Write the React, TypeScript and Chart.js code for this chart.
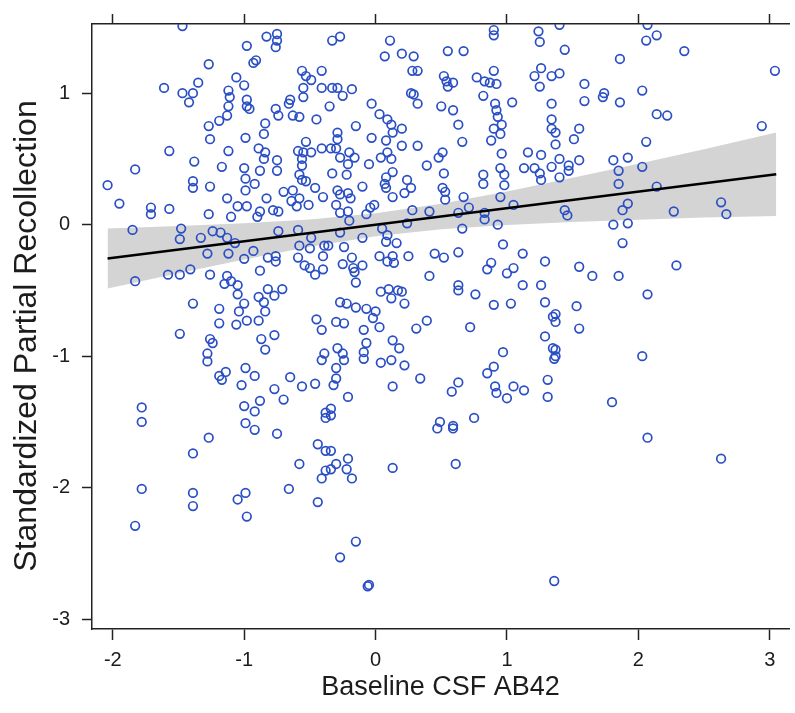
import React, { useEffect, useRef } from "react";
import { Chart, registerables } from "chart.js";

Chart.register(...registerables);

// Scatter values (Baseline CSF AB42, Standardized Partial Recollection), grouped by plot region
const topLeftX = [-1.47,-0.83,-0.75,-0.75,-0.76,-0.98,-1.27,-0.93,-0.91,-1.61,
-1.47,-1.39,-1.42,-1.35,-1.06,-1.00,-1.12,-1.11,-1.12,-0.98,
-0.98,-0.96,-1.13,-1.19,-1.27,-1.26,-0.99,-1.12,-1.57,-1.38,
-1.17,-1.83,-2.04,-1.95,-1.71,-1.71,-1.57,-1.39,-1.39,-1.26,
-1.27,-1.00,-0.99,-0.99,-0.92,-0.88,-0.85,-0.84,-0.89,-0.84,
-0.85,-0.75,-0.75,-0.76,-0.66,-0.65,-0.74,-0.63,-0.58,-0.55,
-0.55,-0.56,-0.53,-0.49,-0.41,-0.41,-0.45,-0.53,-0.59,-0.55,
-0.49,-0.41,-0.56,-0.56,-0.58,-0.56,-0.53,-0.46,-0.63,-0.70,
-0.83,-0.64,-0.58,-0.51,-0.40,-0.98,-1.05,-1.13,-0.78,-0.74,
-0.88,-0.60,-1.10,-0.90];
const topLeftY = [1.51,1.43,1.45,1.40,1.35,1.36,1.22,1.23,1.25,1.04,
1.00,1.00,0.93,1.08,1.12,1.06,1.02,0.97,0.90,0.95,
0.90,0.88,0.83,0.79,0.75,0.65,0.66,0.56,0.56,0.48,
0.44,0.42,0.30,0.16,0.13,0.08,0.12,0.33,0.28,0.29,
0.08,0.43,0.35,0.26,0.31,0.41,0.69,0.77,0.58,0.55,
0.50,0.49,0.41,0.88,0.92,0.95,0.83,0.83,0.82,1.04,
0.97,1.17,1.13,1.10,1.17,1.04,0.80,0.63,0.56,0.55,
0.55,0.58,0.50,0.45,0.38,0.34,0.33,0.28,0.26,0.25,
0.20,0.18,0.20,0.15,0.21,0.14,0.14,0.20,0.11,0.10,
0.10,0.14,0.06,0.06];

const topMidX = [-0.33,-0.27,0.11,0.07,0.20,0.29,0.28,0.32,0.55,0.67,
0.90,0.90,1.24,1.25,1.26,1.21,1.25,1.34,1.34,1.34,
1.34,0.52,0.54,0.59,0.55,0.77,0.83,0.87,0.90,0.92,
0.82,1.04,0.91,0.92,0.93,0.96,0.90,0.95,0.88,0.96,
0.95,0.98,0.98,0.82,0.82,0.95,1.05,1.16,1.26,1.13,
1.21,1.25,1.26,1.34,0.27,0.29,0.32,0.50,0.59,0.63,
0.66,0.51,0.48,0.39,0.52,0.51,0.53,0.53,0.67,0.71,
0.63,0.83,-0.03,0.03,0.09,0.12,0.13,0.20,0.08,0.20,
0.32,0.09,0.04,0.12,-0.05,0.13,0.08,0.07,0.08,0.13,
0.24,0.22,0.27,-0.01,-0.04,0.28,0.41,-0.07,-0.15,-0.03,
-0.29,-0.29,-0.30,-0.34,-0.27,-0.20,-0.16,-0.21,-0.33,-0.22,
-0.10,-0.29,-0.27,-0.19,-0.21,-0.30,-0.27,-0.21,-0.33,-0.29,
-0.25,-0.18,-0.35];
const topMidY = [1.40,1.43,1.40,1.28,1.30,1.28,1.17,1.17,1.32,1.32,
1.48,1.44,1.47,1.39,1.19,1.13,1.05,1.13,0.92,0.80,
0.73,1.13,1.09,1.08,1.05,1.12,1.09,1.08,1.17,1.07,
0.98,0.93,0.92,0.87,0.82,0.76,0.73,0.69,0.64,0.54,
0.43,0.38,0.30,0.38,0.31,0.21,0.15,0.55,0.53,0.43,
0.43,0.39,0.34,0.44,1.00,0.99,0.92,0.90,0.87,0.76,
0.63,0.55,0.51,0.45,0.39,0.28,0.25,0.19,0.21,0.13,
0.09,0.09,0.92,0.84,0.80,0.76,0.70,0.73,0.64,0.60,
0.60,0.55,0.51,0.50,0.46,0.40,0.36,0.31,0.28,0.21,
0.34,0.24,0.28,0.15,0.13,0.11,0.10,0.08,0.75,0.66,
0.70,0.65,0.58,0.58,0.51,0.55,0.51,0.46,0.39,0.38,
0.29,0.26,0.23,0.20,0.24,0.15,0.09,0.10,1.04,1.04,
0.98,1.03,0.90];

const topRightX = [1.40,1.44,1.40,1.59,1.59,1.74,1.73,1.86,1.86,2.03,
2.06,2.14,2.07,2.35,3.04,2.14,2.22,2.94,2.06,1.55,
1.51,1.37,1.37,1.40,1.55,1.47,1.47,1.40,1.81,1.92,
1.85,2.03,1.85,2.14,1.92,1.88,2.27,2.63,2.67,1.44,
1.46];
const topRightY = [1.52,1.33,1.15,1.07,0.94,1.00,0.97,1.26,0.93,1.02,
1.40,1.44,1.52,1.32,1.17,0.84,0.83,0.75,0.63,0.73,
0.65,0.70,0.61,0.50,0.49,0.45,0.41,0.36,0.49,0.51,
0.41,0.44,0.31,0.29,0.16,0.11,0.10,0.17,0.08,0.11,
0.07];

const midLeftX = [-1.85,-1.48,-1.49,-1.33,-1.24,-1.18,-1.13,-1.07,-1.28,-1.12,
-1.00,-0.93,-0.88,-0.82,-0.76,-0.76,-0.74,-0.59,-0.58,-0.50,
-0.49,-0.59,-0.54,-0.50,-0.46,-0.40,-0.40,-0.39,-1.83,-1.58,
-1.49,-1.41,-1.26,-1.13,-1.15,-1.10,-1.05,-1.05,-0.89,-0.82,
-0.77,-0.71,-0.85,-1.00,-1.04,-0.84,-1.39,-1.19,-1.19,-0.98,
-1.06,-0.89,-1.49,-1.26,-1.24,-1.28,-1.28,-0.87,-0.77,-0.84,
-1.19,-1.14,-1.17,-0.99,-0.92,-1.02,-0.65,-0.77,-0.70,-0.56,
-0.46,-0.45,-0.41,-0.39,-0.41,-0.38,-0.38,-1.78,-1.78,-1.00,
-0.92,-0.88,-0.99];
const midLeftY = [-0.04,-0.03,-0.11,-0.10,-0.05,-0.06,-0.10,-0.14,-0.22,-0.22,
-0.26,-0.20,-0.35,-0.25,-0.24,-0.28,-0.05,-0.04,-0.16,-0.18,
-0.10,-0.25,-0.31,-0.33,-0.38,-0.34,-0.24,-0.16,-0.43,-0.38,
-0.38,-0.34,-0.38,-0.39,-0.45,-0.43,-0.46,-0.53,-0.55,-0.49,
-0.54,-0.49,-0.59,-0.60,-0.66,-0.66,-0.60,-0.64,-0.75,-0.73,
-0.76,-0.73,-0.83,-0.87,-0.90,-0.98,-1.04,-0.87,-0.84,-0.95,
-1.15,-1.12,-1.18,-1.09,-1.15,-1.22,-1.16,-1.25,-1.33,-1.23,
-1.21,-0.72,-0.80,-0.98,-1.03,-1.43,-1.47,-1.39,-1.50,-1.38,
-1.42,-1.34,-1.51];

const midMidX = [-0.20,0.24,0.66,0.83,0.93,0.97,-0.27,-0.10,0.05,0.09,
0.08,0.16,-0.36,-0.24,-0.18,-0.25,-0.17,-0.10,-0.16,-0.15,
0.03,0.09,0.13,0.14,0.25,0.45,0.52,0.63,0.41,0.63,
0.63,0.76,0.85,0.88,1.00,1.05,1.12,1.29,1.12,1.26,
0.90,1.03,1.29,1.35,0.72,1.29,1.35,1.36,0.97,0.04,
0.10,0.17,0.20,0.12,0.22,-0.27,-0.22,-0.15,-0.07,0.00,
-0.02,0.03,-0.30,-0.24,-0.09,0.31,0.39,-0.07,0.13,0.18,
-0.29,-0.25,-0.24,-0.09,-0.09,0.04,0.12,0.22,-0.30,-0.30,
-0.32,-0.21,0.13,0.34,0.58,0.63,0.85,0.90,0.91,0.92,
1.00,1.05,1.13,1.31,1.31,-0.34,-0.34,0.75,0.49,0.59];
const midMidY = [0.03,0.01,-0.03,0.04,0.00,-0.15,-0.06,-0.10,-0.03,-0.08,
-0.13,-0.14,-0.16,-0.17,-0.25,-0.30,-0.33,-0.31,-0.36,-0.44,
-0.24,-0.28,-0.24,-0.29,-0.24,-0.22,-0.25,-0.21,-0.39,-0.46,
-0.50,-0.53,-0.34,-0.29,-0.37,-0.33,-0.22,-0.28,-0.46,-0.46,
-0.61,-0.60,-0.59,-0.70,-0.78,-0.85,-0.94,-1.02,-0.97,-0.51,
-0.49,-0.50,-0.51,-0.56,-0.60,-0.59,-0.60,-0.63,-0.64,-0.66,
-0.71,-0.78,-0.74,-0.75,-0.80,-0.79,-0.73,-0.90,-0.88,-0.94,
-0.94,-0.98,-1.03,-0.97,-1.02,-1.05,-1.03,-1.07,-1.09,-1.17,
-1.22,-1.31,-1.23,-1.17,-1.27,-1.20,-1.13,-1.08,-1.23,-1.28,
-1.32,-1.23,-1.26,-1.18,-1.31,-1.40,-1.45,-1.47,-1.50,-1.53];

const midRightX = [1.81,1.92,1.88,1.55,1.65,1.85,2.29,2.07,1.53,1.37,
1.37,1.55,1.37,1.37,2.03,1.80];
const midRightY = [0.00,0.01,-0.14,-0.32,-0.39,-0.39,-0.31,-0.53,-0.62,-0.68,
-0.74,-0.79,-0.95,-1.00,-1.00,-1.35];

const lowX = [-1.27,-1.39,-0.92,-0.75,-0.44,-0.58,-0.38,-0.41,-0.38,-1.78,
-1.39,-1.39,-1.83,-0.99,-1.05,-0.98,-0.66,-0.44,
0.47,0.59,-0.34,-0.30,-0.21,-0.34,-0.22,-0.18,0.13,0.61,
-0.15,-0.27,-0.06,-0.05,1.36,2.07,2.63];
const lowY = [-1.62,-1.74,-1.56,-1.59,-1.67,-1.82,-1.72,-1.93,-1.87,-2.01,
-2.04,-2.14,-2.29,-2.04,-2.09,-2.22,-2.01,-2.11,
-1.55,-1.55,-1.72,-1.82,-1.78,-1.86,-1.86,-1.93,-1.85,-1.82,
-2.41,-2.53,-2.75,-2.74,-2.71,-1.62,-1.78];

// Fitted regression line and its confidence band
const fitX = [-2.04, 3.05];
const fitY = [-0.258, 0.383];
const bandX = [-2.04, -1.5, -1, -0.5, 0, 0.5, 1, 1.5, 2, 2.5, 3.05];
const bandUpper = [-0.03, -0.01, 0.011, 0.04, 0.087, 0.159, 0.253, 0.356, 0.464, 0.574, 0.701];
const bandLower = [-0.486, -0.37, -0.265, -0.168, -0.089, -0.035, -0.003, 0.02, 0.038, 0.054, 0.065];

const xTicks = [-2, -1, 0, 1, 2, 3];
const yTicks = [-3, -2, -1, 0, 1];

const X_TITLE = "Baseline CSF AB42";
const Y_TITLE = "Standardized Partial Recollection";

const X_MIN = -2.1585;
const X_MAX = 3.147;
const Y_MIN = -3.075;
const Y_MAX = 1.526;

const FAMILY = "'Liberation Sans', Arial, sans-serif";
const INK = "#1c1c1c";

const yTitlePlugin = {
  id: "yTitle",
  afterDraw(chart: any) {
    const ctx = chart.ctx;
    ctx.save();
    ctx.translate(27, 336);
    ctx.rotate(-Math.PI / 2);
    ctx.font = `32px ${FAMILY}`;
    ctx.fillStyle = INK;
    ctx.textAlign = "center";
    ctx.textBaseline = "middle";
    ctx.fillText(Y_TITLE, 0, 0);
    ctx.restore();
  },
};

export default function App() {
  const ref = useRef<HTMLCanvasElement>(null);

  useEffect(() => {
    const canvas = ref.current;
    if (!canvas) return;
    const xs = [...topLeftX, ...topMidX, ...topRightX, ...midLeftX, ...midMidX, ...midRightX, ...lowX];
    const ys = [...topLeftY, ...topMidY, ...topRightY, ...midLeftY, ...midMidY, ...midRightY, ...lowY];
    const points = xs.map((x, i) => ({ x, y: ys[i] }));
    const fit = fitX.map((x, i) => ({ x, y: fitY[i] }));
    const upper = bandX.map((x, i) => ({ x, y: bandUpper[i] }));
    const lower = bandX.map((x, i) => ({ x, y: bandLower[i] }));

    const tickGrid = {
      display: true,
      drawOnChartArea: false,
      drawTicks: true,
      tickLength: 10,
      tickWidth: 1.5,
      tickColor: "#222",
    };
    const border = { display: true, color: "#222", width: 1.5 };

    const chart = new Chart(canvas, {
      type: "scatter",
      data: {
        datasets: [
          {
            type: "line",
            data: fit,
            borderColor: "#000",
            borderWidth: 2.6,
            pointRadius: 0,
            fill: false,
            order: 0,
          } as any,
          {
            type: "scatter",
            data: points,
            pointStyle: "circle",
            pointRadius: 4.3,
            borderWidth: 1.7,
            borderColor: "#2a4fc4",
            backgroundColor: "rgba(0,0,0,0)",
            order: 1,
            clip: 0,
          } as any,
          {
            type: "line",
            data: upper,
            borderWidth: 0,
            borderColor: "rgba(0,0,0,0)",
            backgroundColor: "#d4d4d4",
            pointRadius: 0,
            fill: "+1",
            order: 2,
          } as any,
          {
            type: "line",
            data: lower,
            borderWidth: 0,
            borderColor: "rgba(0,0,0,0)",
            pointRadius: 0,
            fill: false,
            order: 3,
          } as any,
        ],
      },
      options: {
        animation: false,
        responsive: false,
        events: [],
        layout: { padding: 0 },
        plugins: {
          legend: { display: false },
          tooltip: { enabled: false },
          filler: { drawTime: "beforeDatasetsDraw" },
        } as any,
        scales: {
          x: {
            type: "linear",
            position: "bottom",
            min: X_MIN,
            max: X_MAX,
            afterBuildTicks: (s: any) => {
              s.ticks = xTicks.map((v) => ({ value: v }));
            },
            afterFit: (s: any) => {
              s.height = 84;
            },
            ticks: { font: { family: FAMILY, size: 20 }, color: INK, padding: 8, maxRotation: 0, autoSkip: false },
            grid: { ...tickGrid, tickLength: 11 },
            border,
            title: {
              display: true,
              text: X_TITLE,
              font: { family: FAMILY, size: 27 },
              color: INK,
              padding: { top: 0, bottom: 9 },
            },
          },
          x2: {
            type: "linear",
            axis: "x",
            position: "top",
            min: X_MIN,
            max: X_MAX,
            afterBuildTicks: (s: any) => {
              s.ticks = xTicks.map((v) => ({ value: v }));
            },
            afterFit: (s: any) => {
              s.height = 17;
            },
            ticks: { display: false },
            grid: tickGrid,
            border,
          },
          y: {
            type: "linear",
            position: "left",
            min: Y_MIN,
            max: Y_MAX,
            afterBuildTicks: (s: any) => {
              s.ticks = yTicks.map((v) => ({ value: v }));
            },
            afterFit: (s: any) => {
              s.width = 92;
            },
            ticks: { font: { family: FAMILY, size: 20 }, color: INK, padding: 12 },
            grid: tickGrid,
            border,
            title: { display: false, text: Y_TITLE },
          },
        } as any,
      },
      plugins: [yTitlePlugin],
    } as any);

    return () => chart.destroy();
  }, []);

  return (
    <div style={{ position: "fixed", left: 0, top: 0, width: 795, height: 713, background: "#fff" }}>
      <canvas ref={ref} width={795} height={713} style={{ display: "block" }} />
    </div>
  );
}
